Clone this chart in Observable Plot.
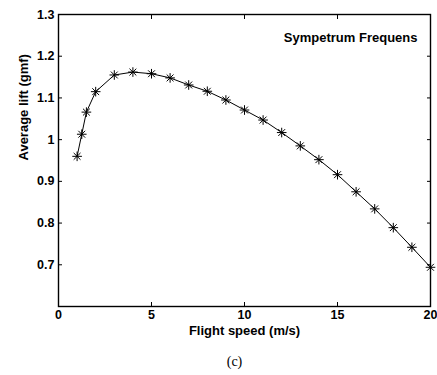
<!DOCTYPE html>
<html>
<head>
<meta charset="utf-8">
<script src="https://cdn.jsdelivr.net/npm/d3@7"></script>
<script src="https://cdn.jsdelivr.net/npm/@observablehq/plot@0.6"></script>
<style>
  html, body { margin: 0; padding: 0; background: #fff; }
</style>
</head>
<body>
<div id="chart"></div>
<script>
const speed = [1, 1.25, 1.5, 2, 3, 4, 5, 6, 7, 8, 9, 10, 11, 12, 13, 14, 15, 16, 17, 18, 19, 20];
const lift = [0.960, 1.013, 1.066, 1.115, 1.155, 1.162, 1.158, 1.148, 1.131, 1.116, 1.095, 1.071, 1.047, 1.017, 0.985, 0.952, 0.916, 0.875, 0.834, 0.789, 0.742, 0.694];
const xTicks = [0, 5, 10, 15, 20];
const yTicks = [0.7, 0.8, 0.9, 1, 1.1, 1.2, 1.3];
const yTickMarks = [0.6, 0.7, 0.8, 0.9, 1, 1.1, 1.2, 1.3];
const title = "Sympetrum Frequens";
const xLabel = "Flight speed (m/s)";
const yLabel = "Average lift (gmf)";
const caption = "(c)";

const data = speed.map((s, i) => ({speed: s, lift: lift[i]}));
const sans = "'Liberation Sans', Arial, Helvetica, sans-serif";

const chart = Plot.plot({
  width: 437,
  height: 375,
  marginLeft: 58,
  marginRight: 7,
  marginTop: 14,
  marginBottom: 69,
  x: {domain: [0, 20]},
  y: {domain: [0.6, 1.3]},
  style: {fontFamily: sans, fontSize: "12.5px", fontWeight: "bold", color: "black", background: "white"},
  marks: [
    Plot.axisX(xTicks, {anchor: "bottom", tickSize: 0, tickPadding: 4, label: null, tickFormat: d => String(d)}),
    Plot.axisX(xTicks, {anchor: "bottom", tickSize: -4, tickFormat: () => "", label: null}),
    Plot.axisX(xTicks, {anchor: "top", tickSize: -4, tickFormat: () => "", label: null}),
    Plot.axisY(yTicks, {anchor: "left", tickSize: 0, tickPadding: 4, label: null, tickFormat: d => String(d)}),
    Plot.axisY(yTickMarks, {anchor: "left", tickSize: -4, tickFormat: () => "", label: null}),
    Plot.axisY(yTickMarks, {anchor: "right", tickSize: -4, tickFormat: () => "", label: null}),
    Plot.frame({stroke: "black", strokeWidth: 1.4}),
    Plot.line(data, {x: "speed", y: "lift", stroke: "black", strokeWidth: 1}),
    Plot.dot(data, {x: "speed", y: "lift", symbol: "plus", r: 3.2, stroke: "black", strokeWidth: 1}),
    Plot.dot(data, {x: "speed", y: "lift", symbol: "times", r: 3.2, stroke: "black", strokeWidth: 1}),
    Plot.text([title], {frameAnchor: "top-right", textAnchor: "end", dx: -13, dy: 18, fontSize: 13, fontWeight: "bold"}),
    Plot.text([xLabel], {frameAnchor: "bottom", dy: 28, fontSize: 13, fontWeight: "bold"}),
    Plot.text([yLabel], {frameAnchor: "left", rotate: -90, dx: -35, fontSize: 13, fontWeight: "bold"}),
    Plot.text([caption], {frameAnchor: "bottom", dy: 59, dx: -10, fontSize: 14, fontWeight: "normal", fontFamily: "'Liberation Serif', 'Times New Roman', serif"})
  ]
});
document.getElementById("chart").appendChild(chart);
</script>
</body>
</html>
